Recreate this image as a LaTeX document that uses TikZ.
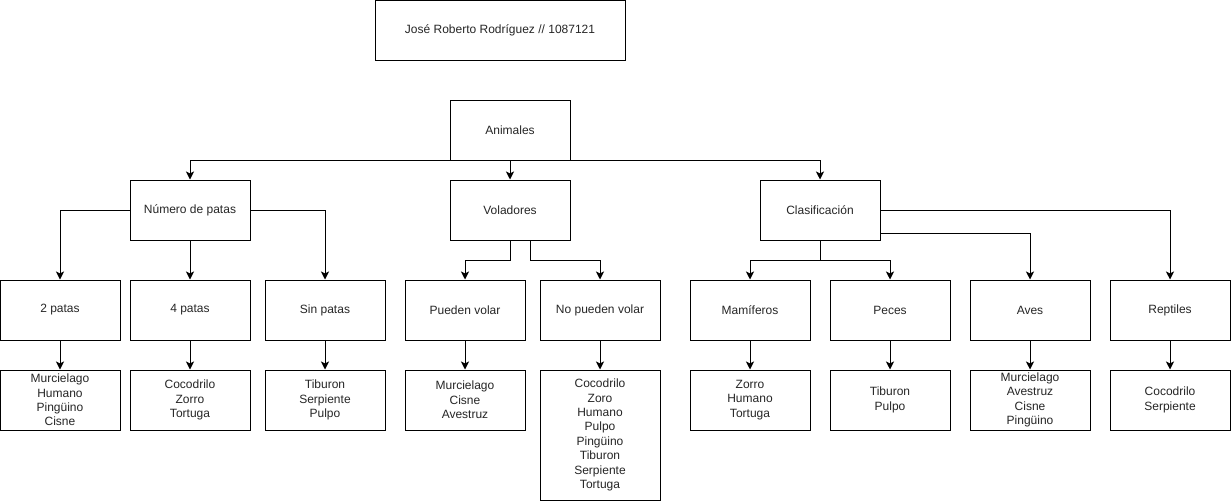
\documentclass[tikz,border=0pt]{standalone}
\usepackage{fontspec}
\setmainfont{Liberation Sans}
\usetikzlibrary{arrows.meta,calc}
\tikzset{
  box/.style={draw=black, line width=1pt, fill=white, minimum width=120pt, minimum height=60pt, inner sep=0pt, align=center, font=\fontsize{12}{14.4}\selectfont, text=black!85},
  conn/.style={draw=black, line width=1pt, -{Stealth[length=8pt,width=8pt,inset=2pt]}},
}
\begin{document}
\begin{tikzpicture}[x=1pt,y=-1pt]
\useasboundingbox (0,0) rectangle (1231,501);
% title
\node[box, minimum width=250pt] (title) at (500,30) {José Roberto Rodríguez // 1087121};
% level 1
\node[box] (anim) at (510,130) {Animales};
% level 2
\node[box] (num) at (190,210) {Número de patas};
\node[box] (vol) at (510,210) {Voladores};
\node[box] (clas) at (820,210) {Clasificación};
% level 3
\node[box] (p2) at (60,310) {2 patas};
\node[box] (p4) at (190,310) {4 patas};
\node[box] (sp) at (325,310) {Sin patas};
\node[box] (pv) at (465,310) {Pueden volar};
\node[box] (npv) at (600,310) {No pueden volar};
\node[box] (mam) at (750,310) {Mamíferos};
\node[box] (pec) at (890,310) {Peces};
\node[box] (ave) at (1030,310) {Aves};
\node[box] (rep) at (1170,310) {Reptiles};
% leaves
\node[box] (l2) at (60,400) {Murcielago\\Humano\\Pingüino\\Cisne};
\node[box] (l4) at (190,400) {Cocodrilo\\Zorro\\Tortuga};
\node[box] (lsp) at (325,400) {Tiburon\\Serpiente\\Pulpo};
\node[box] (lpv) at (465,400) {Murcielago\\Cisne\\Avestruz};
\node[box, minimum height=130pt] (lnpv) at (600,435) {Cocodrilo\\Zoro\\Humano\\Pulpo\\Pingüino\\Tiburon\\Serpiente\\Tortuga};
\node[box] (lmam) at (750,400) {Zorro\\Humano\\Tortuga};
\node[box] (lpec) at (890,400) {Tiburon\\Pulpo};
\node[box] (lave) at (1030,400) {Murcielago\\Avestruz\\Cisne\\Pingüino};
\node[box] (lrep) at (1170,400) {Cocodrilo\\Serpiente};
% connectors
\draw[conn] (anim.south) -| (num.north);
\draw[conn] (anim.south) -- (vol.north);
\draw[conn] (anim.south) -| (clas.north);
\draw[conn] (num.west) -| (p2.north);
\draw[conn] (num.south) -- (p4.north);
\draw[conn] (num.east) -| (sp.north);
\draw[conn] (vol.south) -- ++(0,20) -| (pv.north);
\draw[conn] ($(vol.south)+(20,0)$) -- ++(0,20) -| (npv.north);
\draw[conn] (clas.south) -- ++(0,20) -| (mam.north);
\draw[conn] (clas.south) -- ++(0,20) -| (pec.north);
\draw[conn] ($(clas.south east)+(0,-7.5)$) -| (ave.north);
\draw[conn] (clas.east) -| (rep.north);
\draw[conn] (p2.south) -- (l2.north);
\draw[conn] (p4.south) -- (l4.north);
\draw[conn] (sp.south) -- (lsp.north);
\draw[conn] (pv.south) -- (lpv.north);
\draw[conn] (npv.south) -- (lnpv.north);
\draw[conn] (mam.south) -- (lmam.north);
\draw[conn] (pec.south) -- (lpec.north);
\draw[conn] (ave.south) -- (lave.north);
\draw[conn] (rep.south) -- (lrep.north);
\end{tikzpicture}
\end{document}
